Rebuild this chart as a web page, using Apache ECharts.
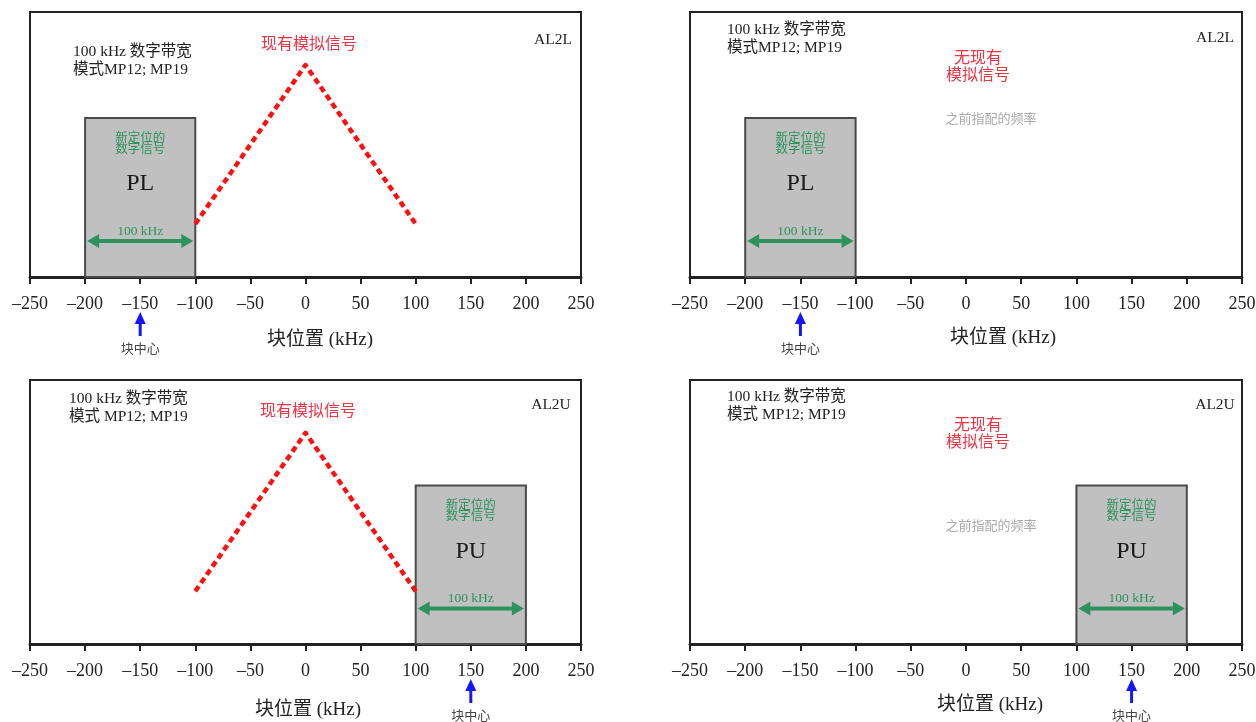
<!DOCTYPE html>
<html>
<head>
<meta charset="utf-8">
<script src="https://cdn.jsdelivr.net/npm/echarts@6/dist/echarts.min.js"></script>
<style>html,body{margin:0;padding:0;background:#fff}#c{width:1256px;height:722px}</style>
</head>
<body>
<div id="c"></div>
<script>
// ---- data ----
const panelNames = ['AL2L', 'AL2L', 'AL2U', 'AL2U'];
const xMin = -250, xMax = 250, xStep = 50;
const blockStart = [-200, -200, 100, 100];
const blockEnd = [-100, -100, 200, 200];
const blockHeight = [60, 60, 60, 60];
const blockLabels = ['PL', 'PL', 'PU', 'PU'];
const blockWidthLabel = '100 kHz';
const blockTitle = ['新定位的', '数字信号'];
const blockCenter = [-150, -150, 150, 150];
const analogX = [-100, 0, 100];
const analogY = [20, 80, 20];
const analogPresent = [true, false, true, false];
const modeText = ['100 kHz 数字带宽\n模式MP12; MP19', '100 kHz 数字带宽\n模式MP12; MP19', '100 kHz 数字带宽\n模式 MP12; MP19', '100 kHz 数字带宽\n模式 MP12; MP19'];
const analogText = '现有模拟信号';
const noAnalogText = '无现有\n模拟信号';
const prevFreqText = '之前指配的频率';
const xAxisName = '块位置 (kHz)';
const centerText = '块中心';

// ---- layout ----
const grids = [
  {left: 30, top: 12, width: 551, height: 265},
  {left: 690, top: 12, width: 552, height: 265},
  {left: 30, top: 380, width: 551, height: 264},
  {left: 690, top: 380, width: 552, height: 264}
];
const SERIF = '"Liberation Serif", "Noto Sans CJK SC", serif';
const CJK = '"Noto Sans CJK SC", sans-serif';
const GREEN = '#2d935c';
const RED_TXT = '#ee3344';
const RED_LINE = '#ff1010';
const BLUE = '#1515ff';

const option = {
  backgroundColor: '#fff',
  animation: false,
  grid: grids.map(g => Object.assign({show: true, borderColor: '#222', borderWidth: 2, containLabel: false, outerBoundsMode: 'none'}, g)),
  xAxis: grids.map((g, i) => ({
    type: 'value', gridIndex: i, min: xMin, max: xMax, interval: xStep,
    splitLine: {show: false},
    axisLine: {show: true, onZero: false, lineStyle: {color: '#222', width: 3}},
    axisTick: {show: true, inside: false, length: 7, lineStyle: {color: '#222', width: 2}},
    axisLabel: {
      margin: 18, color: '#222', fontFamily: SERIF, fontSize: 18,
      formatter: v => (v < 0 ? '\u2013' + Math.abs(v) : String(v))
    }
  })),
  yAxis: grids.map((g, i) => ({type: 'value', gridIndex: i, min: 0, max: 100, show: false})),
  series: [],
  graphic: []
};

function blockRender(panel) {
  return function (params, api) {
    const p0 = api.coord([api.value(0), 0]);
    const p1 = api.coord([api.value(1), api.value(2)]);
    const left = p0[0], right = p1[0], top = p1[1], bottom = p0[1];
    const cx = (left + right) / 2;
    const ay = top + 123;
    return {
      type: 'group',
      children: [
        {type: 'rect', shape: {x: left, y: top, width: right - left, height: bottom - top},
          style: {fill: '#c0c0c0', stroke: '#4a4a4a', lineWidth: 2}},
        {type: 'text', x: cx, y: top + 19, style: {text: blockTitle[0], fill: GREEN, font: '12.5px ' + CJK, align: 'center', verticalAlign: 'middle'}},
        {type: 'text', x: cx, y: top + 30, style: {text: blockTitle[1], fill: GREEN, font: '12.5px ' + CJK, align: 'center', verticalAlign: 'middle'}},
        {type: 'text', x: cx, y: top + 66, style: {text: blockLabels[panel], fill: '#1a1a1a', font: '24px ' + SERIF, align: 'center', verticalAlign: 'middle'}},
        {type: 'text', x: cx, y: top + 113, style: {text: blockWidthLabel, fill: GREEN, font: '13.5px ' + SERIF, align: 'center', verticalAlign: 'middle'}},
        {type: 'line', shape: {x1: left + 10, y1: ay, x2: right - 10, y2: ay}, style: {stroke: GREEN, lineWidth: 4}},
        {type: 'polygon', shape: {points: [[left + 2, ay], [left + 14, ay - 7], [left + 14, ay + 7]]}, style: {fill: GREEN}},
        {type: 'polygon', shape: {points: [[right - 2, ay], [right - 14, ay - 7], [right - 14, ay + 7]]}, style: {fill: GREEN}}
      ]
    };
  };
}

function centerRender(params, api) {
  const p = api.coord([api.value(0), 0]);
  const x = p[0], y = p[1];
  return {
    type: 'group',
    children: [
      {type: 'line', shape: {x1: x, y1: y + 44, x2: x, y2: y + 59}, style: {stroke: BLUE, lineWidth: 3}},
      {type: 'polygon', shape: {points: [[x, y + 35], [x - 5.5, y + 47], [x + 5.5, y + 47]]}, style: {fill: BLUE}},
      {type: 'text', x: x, y: y + 71, style: {text: centerText, fill: '#444', font: '13px ' + CJK, align: 'center', verticalAlign: 'middle'}}
    ]
  };
}

for (let i = 0; i < 4; i++) {
  option.series.push({
    type: 'custom', xAxisIndex: i, yAxisIndex: i, clip: false, z: 2,
    data: [[blockStart[i], blockEnd[i], blockHeight[i]]],
    renderItem: blockRender(i)
  });
  option.series.push({
    type: 'custom', xAxisIndex: i, yAxisIndex: i, clip: false, z: 5,
    data: [[blockCenter[i], 0]],
    renderItem: centerRender
  });
  if (analogPresent[i]) {
    option.series.push({
      type: 'line', xAxisIndex: i, yAxisIndex: i, z: 3, showSymbol: false, symbol: 'none',
      data: analogX.map((x, k) => [x, analogY[k]]),
      lineStyle: {color: RED_LINE, width: 4.5, type: [6, 4], cap: 'butt', join: 'round'}
    });
  }
}

// ---- annotations ----
const G = option.graphic;
function txt(x, y, text, font, fill, align, lineHeight) {
  G.push({type: 'text', x: x, y: y, z: 10, style: {text: text, font: font, fill: fill, align: align || 'left', verticalAlign: 'middle', lineHeight: lineHeight || undefined}});
}
const modePos = [[73, 61], [727, 39], [69, 408], [727, 406]];
const namePos = [[553, 40], [1215, 38], [551, 405], [1215, 405]];
const axisNamePos = [[320, 340], [1003, 338], [308, 710], [990, 705]];
for (let i = 0; i < 4; i++) {
  txt(modePos[i][0], modePos[i][1], modeText[i], '15.5px ' + SERIF, '#222', 'left', 18);
  txt(namePos[i][0], namePos[i][1], panelNames[i], '15.5px ' + SERIF, '#222', 'center');
  txt(axisNamePos[i][0], axisNamePos[i][1], xAxisName, '19px ' + SERIF, '#222', 'center');
}
txt(309, 43, analogText, '16px ' + CJK, RED_TXT, 'center');
txt(308, 410, analogText, '16px ' + CJK, RED_TXT, 'center');
txt(978, 65, noAnalogText, '16px ' + CJK, RED_TXT, 'center', 17);
txt(978, 432, noAnalogText, '16px ' + CJK, RED_TXT, 'center', 17);
txt(991, 118, prevFreqText, '13px ' + CJK, '#aaa', 'center');
txt(991, 525, prevFreqText, '13px ' + CJK, '#aaa', 'center');

const chart = echarts.init(document.getElementById('c'), null, {renderer: 'canvas'});
chart.setOption(option);
</script>
</body>
</html>
